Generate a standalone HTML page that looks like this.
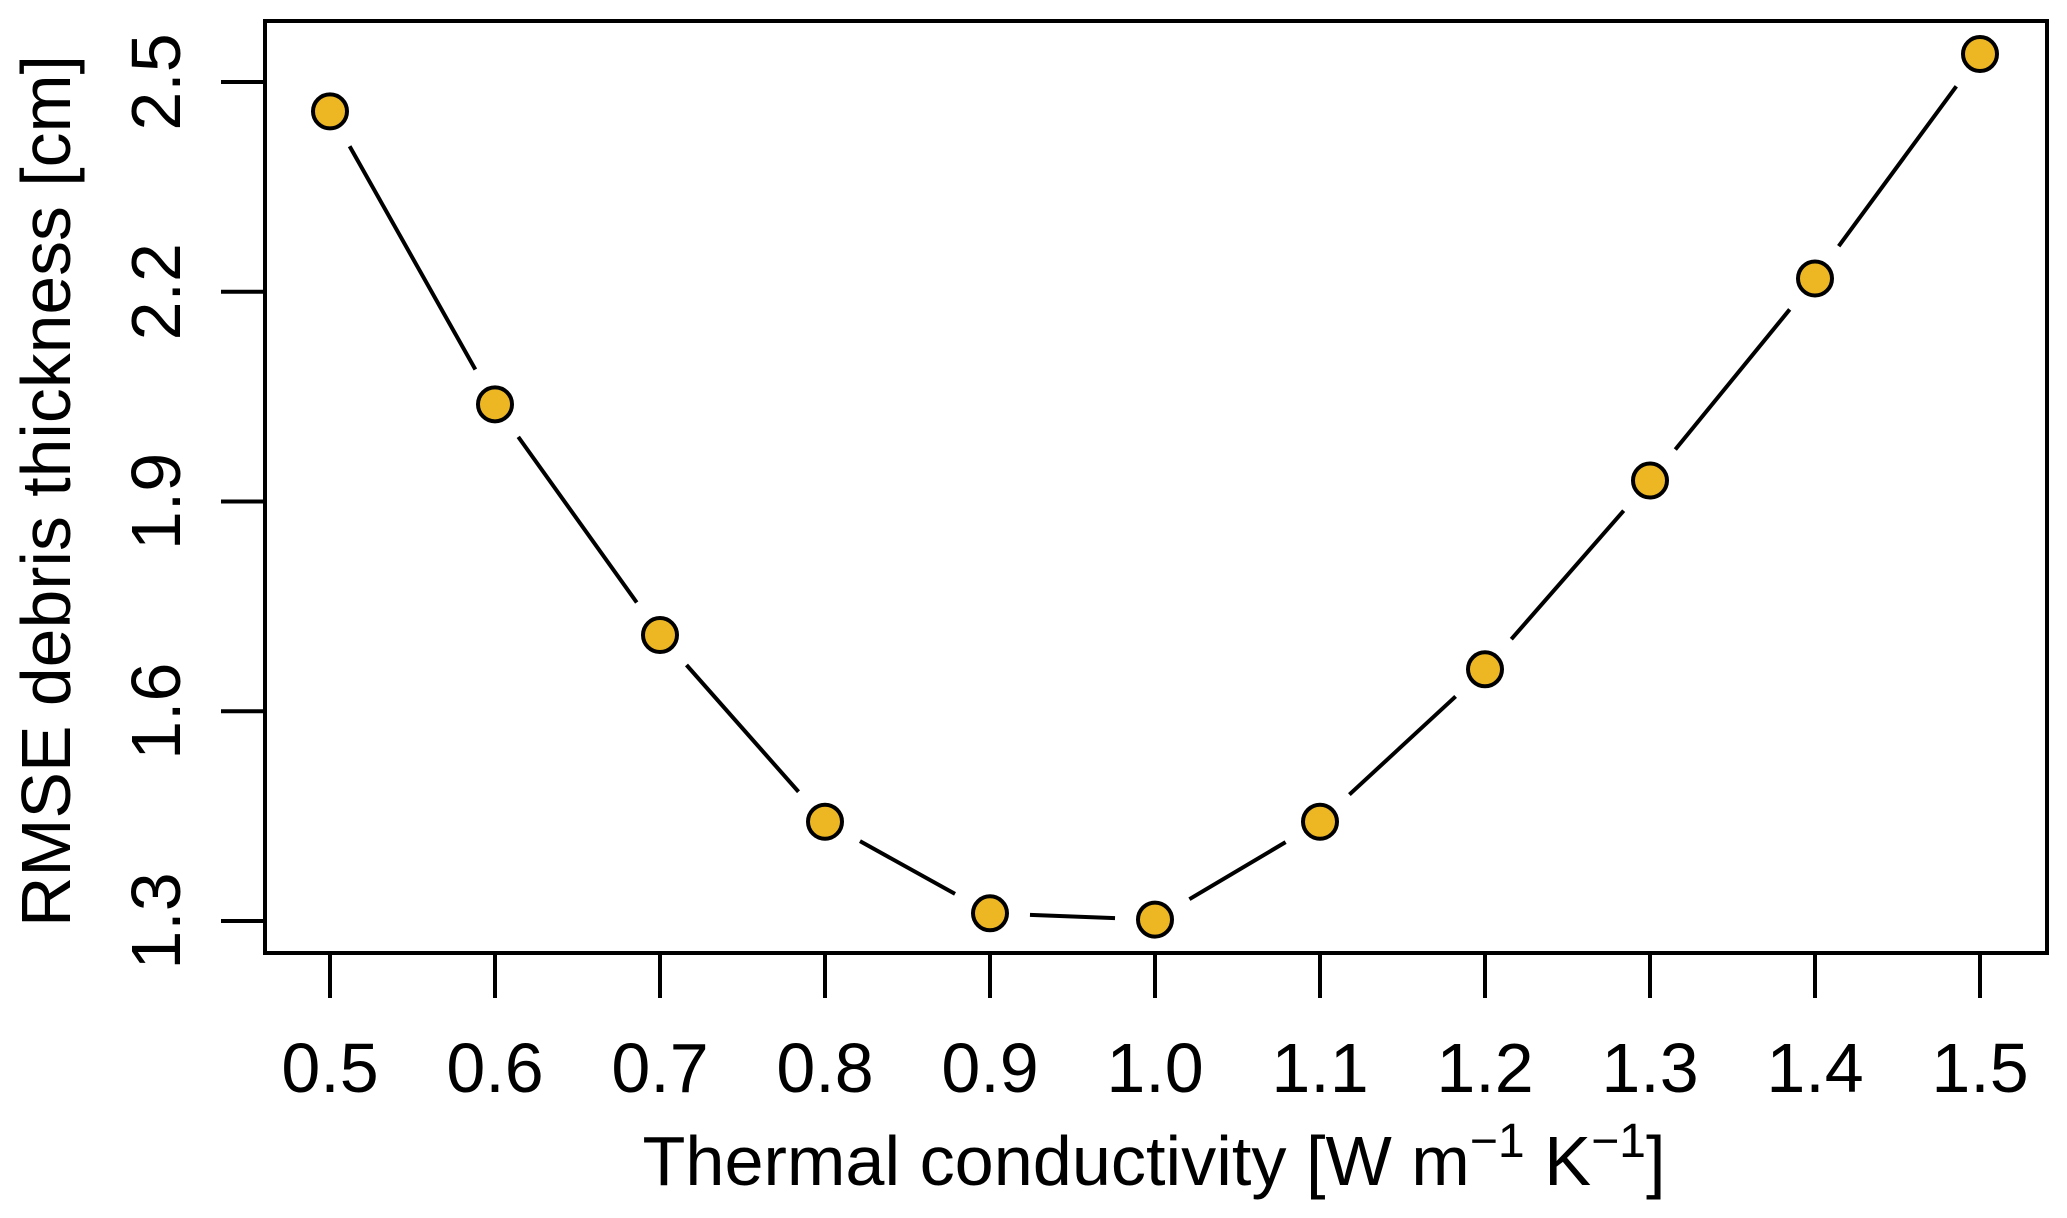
<!DOCTYPE html>
<html><head><meta charset="utf-8"><style>
html,body{margin:0;padding:0;background:#fff;}
svg{display:block;font-family:"Liberation Sans",Arial,sans-serif;}
</style></head><body>
<svg id="chart" width="2067" height="1218" viewBox="0 0 2067 1218" xmlns="http://www.w3.org/2000/svg">
<rect x="265" y="21" width="1782" height="932" fill="none" stroke="#000" stroke-width="4"/>
<g id="xaxis"></g>
<g id="yaxis"></g>
<g id="lines"></g>
<g id="points"></g>
<text x="1154" y="1185" font-size="70" text-anchor="middle" textLength="1023" lengthAdjust="spacingAndGlyphs">Thermal conductivity [W m<tspan font-size="48" dy="-28">−1</tspan><tspan dy="28"> K</tspan><tspan font-size="48" dy="-28">−1</tspan><tspan dy="28">]</tspan></text>
<text transform="translate(70,491) rotate(-90)" font-size="70" text-anchor="middle" textLength="872" lengthAdjust="spacingAndGlyphs">RMSE debris thickness [cm]</text>
</svg>
<script>
const categories = [0.5, 0.6, 0.7, 0.8, 0.9, 1.0, 1.1, 1.2, 1.3, 1.4, 1.5];
const rmseValues = [2.458, 2.039, 1.709, 1.442, 1.311, 1.302, 1.442, 1.660, 1.930, 2.219, 2.540];
const xTickLabels = ["0.5","0.6","0.7","0.8","0.9","1.0","1.1","1.2","1.3","1.4","1.5"];
const yTicks = [1.3, 1.6, 1.9, 2.2, 2.5];
const yTickLabels = ["1.3","1.6","1.9","2.2","2.5"];

const NS = "http://www.w3.org/2000/svg";
function xs(v){ return 330 + (v - 0.5) * (1980 - 330) / 1.0; }
function ys(v){ return 921 - (v - 1.3) * (921 - 82) / 1.2; }
function mk(tag, attrs, parent){
  const e = document.createElementNS(NS, tag);
  for (const k in attrs) e.setAttribute(k, attrs[k]);
  parent.appendChild(e);
  return e;
}
const xa = document.getElementById('xaxis');
categories.forEach((c, i) => {
  const t = mk('line', {x1: xs(c), x2: xs(c), y1: 953, y2: 998, stroke: '#000', 'stroke-width': 4}, xa);
  
  
  const l = mk('text', {x: xs(c), y: 1092, 'font-size': 70, 'text-anchor': 'middle'}, xa);
  l.textContent = xTickLabels[i];
  
  
});
const ya = document.getElementById('yaxis');
yTicks.forEach((v, i) => {
  const t = mk('line', {x1: 221, x2: 265, y1: ys(v), y2: ys(v), stroke: '#000', 'stroke-width': 4}, ya);
  
  
  const l = mk('text', {transform: 'translate(180,' + ys(v) + ') rotate(-90)', 'font-size': 70, 'text-anchor': 'middle'}, ya);
  l.textContent = yTickLabels[i];
  
  
});
const lg = document.getElementById('lines');
const gap = 40;
for (let i = 0; i < categories.length - 1; i++) {
  const x1 = xs(categories[i]), y1 = ys(rmseValues[i]);
  const x2 = xs(categories[i+1]), y2 = ys(rmseValues[i+1]);
  const d = Math.hypot(x2 - x1, y2 - y1);
  if (d <= 2 * gap) continue;
  const ux = (x2 - x1) / d, uy = (y2 - y1) / d;
  const s = mk('line', {x1: x1 + ux*gap, y1: y1 + uy*gap, x2: x2 - ux*gap, y2: y2 - uy*gap, stroke: '#000', 'stroke-width': 4}, lg);
  
  
}
const pg = document.getElementById('points');
categories.forEach((c, i) => {
  const p = mk('circle', {cx: xs(c), cy: ys(rmseValues[i]), r: 17, fill: '#EDB724', stroke: '#000', 'stroke-width': 4}, pg);
  
  
});
</script>
</body></html>
